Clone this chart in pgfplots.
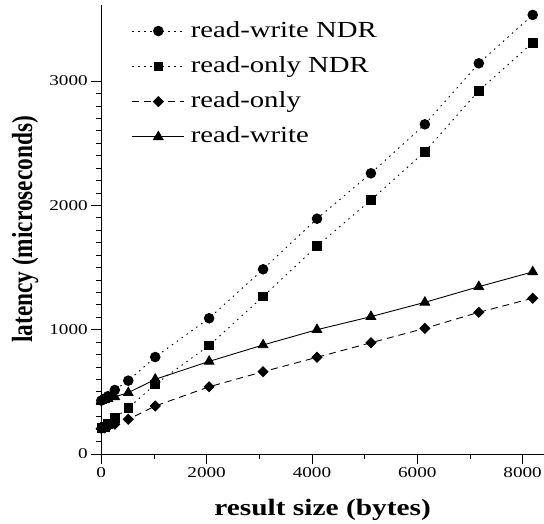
\documentclass[border=0pt]{standalone}
\usepackage{fontspec}
\setmainfont{Liberation Serif}[FakeStretch=1.25]
\newfontfamily\plainserif{Liberation Serif}
\usepackage{graphicx}
\usepackage{pgfplots}
\pgfplotsset{compat=1.18}
\begin{document}
\begin{tikzpicture}
\useasboundingbox (-101.3pt,-69pt) rectangle (442.7pt,454pt);
\begin{axis}[
  scale only axis, width=442.7pt, height=449pt,
  xmin=0, xmax=8406, ymin=0, ymax=3612,
  clip=false,
  axis x line*=bottom, axis y line*=left,
  axis line style={line width=1pt},
  xtick={0,2000,4000,6000,8000}, minor x tick num=1,
  ytick={0,1000,2000,3000}, minor y tick num=9,
  xticklabel={\scalebox{1.28}[1]{\hbox{\plainserif\fontsize{15}{17}\selectfont\pgfmathprintnumber[assume math mode=true,1000 sep={}]{\tick}}}},
  yticklabel={\scalebox{1.28}[1]{\hbox{\plainserif\fontsize{15}{17}\selectfont\pgfmathprintnumber[assume math mode=true,1000 sep={}]{\tick}}}},
  tick align=outside, major tick length=10pt, minor tick length=5pt,
  every tick/.style={black, line width=0.8pt},
  xlabel={\bfseries result size (bytes)},
  xlabel style={at={(axis description cs:0.5,-0.1359)}, anchor=base, font=\fontsize{23.5}{25}\selectfont},
  ylabel={\scalebox{1}[1.25]{\plainserif\bfseries latency (microseconds)}},
  ylabel style={at={(axis description cs:-0.156,0.5)}, anchor=base, font=\fontsize{23.3}{25}\selectfont},
  legend cell align=left,
  legend style={draw=none, fill=none, inner sep=0pt,
    at={(axis description cs:0.0687,0.967)}, anchor=north west,
    font=\fontsize{23}{25}\selectfont,
    row sep=13.3pt,
    nodes={inner sep=0pt, text height=17pt, text depth=5pt},
    /tikz/every odd column/.append style={column sep=6pt}},
  legend image code/.code={\draw[mark repeat=2,mark phase=2] plot coordinates {(0pt,0pt)(26pt,0pt)(52pt,0pt)};},
]
\addplot[black, line width=0.9pt, dash pattern=on 1.5pt off 4.5pt, mark=*, mark size=4.8pt, mark options={solid}]
  coordinates {(0,430)(64,445)(128,465)(256,515)(512,590)(1024,780)(2048,1092)(3072,1486)(4096,1893)(5120,2258)(6144,2652)(7168,3143)(8192,3532)};
\addlegendentry{read-write NDR}
\addplot[black, line width=0.9pt, dash pattern=on 1.5pt off 4.5pt, mark=square*, mark size=4.3pt, mark options={solid}]
  coordinates {(0,210)(64,220)(128,240)(256,290)(512,370)(1024,560)(2048,873)(3072,1267)(4096,1673)(5120,2043)(6144,2432)(7168,2923)(8192,3309)};
\addlegendentry{read-only NDR}
\addplot[black, line width=0.9pt, dash pattern=on 7pt off 5pt, mark=square*, mark size=3.5pt, mark options={solid, rotate=45}]
  coordinates {(0,205)(64,210)(128,220)(256,240)(512,279)(1024,386)(2048,541)(3072,662)(4096,778)(5120,895)(6144,1011)(7168,1140)(8192,1253)};
\addlegendentry{read-only}
\addplot[black, line width=0.9pt, solid, mark=triangle*, mark size=5.5pt, mark options={solid}]
  coordinates {(0,430)(64,435)(128,445)(256,460)(512,493)(1024,601)(2048,745)(3072,877)(4096,1000)(5120,1105)(6144,1220)(7168,1346)(8192,1465)};
\addlegendentry{read-write}
\end{axis}
\end{tikzpicture}
\end{document}
